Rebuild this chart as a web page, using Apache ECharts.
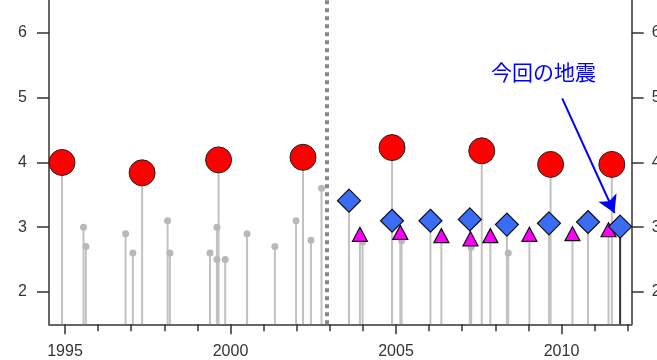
<!DOCTYPE html>
<html><head><meta charset="utf-8">
<script src="https://cdn.jsdelivr.net/npm/echarts@6/dist/echarts.min.js"></script>
<style>html,body{margin:0;padding:0;background:#fff}#c{width:657px;height:360px}</style>
</head><body><div id="c"></div>
<script>
// ---- data ----
const majorYears = [1995, 2000, 2005, 2010];
const minorYears = [1995,1996,1997,1998,1999,2000,2001,2002,2003,2004,2005,2006,2007,2008,2009,2010,2011,2012];
const yTicks = [2, 3, 4, 5, 6];
const grayYears = [1995.56,1995.63,1996.83,1997.05,1998.10,1998.17,1999.38,1999.59,1999.59,1999.84,2000.50,2001.34,2001.98,2002.43,2002.75,2003.99,2005.17,2007.27,2008.39];
const grayMags  = [3.0,2.7,2.9,2.6,3.1,2.6,2.6,3.0,2.5,2.5,2.9,2.7,3.1,2.8,3.6,2.77,2.79,2.69,2.6];
const redYears = [1994.91,1997.33,1999.64,2002.19,2004.88,2007.59,2009.67,2011.52];
const redMags  = [4.0,3.84,4.04,4.08,4.23,4.18,3.97,3.97];
const blueYears = [2003.58,2004.88,2006.04,2007.23,2008.35,2009.62,2010.80];
const blueMags  = [3.41,3.10,3.10,3.12,3.04,3.06,3.08];
const latestYear = [2011.77];
const latestMag  = [3.01];
const magYears = [2003.91,2005.13,2006.37,2007.25,2007.85,2009.03,2010.33,2011.42];
const magMags  = [2.89,2.92,2.87,2.82,2.87,2.89,2.90,2.96];
const dividerYear = 2002.9;
const annotationText = '今回の地震';
const arrowFrom = [2010.02, 4.99];
const arrowTo = [2011.60, 3.22];

// ---- chart ----
const X_MIN = 1994.517, X_MAX = 2012.12, Y_MIN = 1.5, Y_MAX = 6.51;
const pair = (xs, ys) => xs.map((x, i) => [x, ys[i]]);
function stems(xs, ys, color, z) {
  return {
    type: 'custom', z: z, silent: true, clip: true,
    data: pair(xs, ys),
    renderItem(params, api) {
      const t = api.coord([api.value(0), api.value(1)]);
      const b = api.coord([api.value(0), Y_MIN]);
      return { type: 'line', shape: { x1: t[0], y1: t[1], x2: b[0], y2: b[1] },
               style: { stroke: color, lineWidth: 2 } };
    }
  };
}
const axisTextStyle = { color: '#333', fontSize: 16, fontFamily: 'Liberation Sans, Arial, sans-serif' };
const chart = echarts.init(document.getElementById('c'), null, { renderer: 'canvas' });
chart.setOption({
  animation: false,
  backgroundColor: '#fff',
  grid: { left: 49, right: 25.3, top: 0, bottom: 35.7, containLabel: false, outerBoundsMode: 'none' },
  xAxis: [
    { type: 'value', min: X_MIN, max: X_MAX, splitLine: { show: false },
      axisLine: { show: true, lineStyle: { color: '#333', width: 1.5 } },
      axisTick: { show: true, customValues: majorYears, length: 10, lineStyle: { color: '#333', width: 1.5 } },
      axisLabel: Object.assign({ customValues: majorYears, margin: 19, formatter: v => String(v) }, axisTextStyle) },
    { type: 'value', min: X_MIN, max: X_MAX, position: 'bottom', splitLine: { show: false },
      axisLine: { show: false },
      axisTick: { show: true, customValues: minorYears, length: 7, lineStyle: { color: '#333', width: 1.5 } },
      axisLabel: { show: false } }
  ],
  yAxis: [
    { type: 'value', min: Y_MIN, max: Y_MAX, position: 'left', splitLine: { show: false },
      axisLine: { show: true, lineStyle: { color: '#333', width: 1.5 } },
      axisTick: { show: true, customValues: yTicks, length: 12, lineStyle: { color: '#333', width: 1.5 } },
      axisLabel: Object.assign({ customValues: yTicks, margin: 22, formatter: v => String(v) }, axisTextStyle) },
    { type: 'value', min: Y_MIN, max: Y_MAX, position: 'right', splitLine: { show: false },
      axisLine: { show: true, lineStyle: { color: '#333', width: 1.5 } },
      axisTick: { show: true, customValues: yTicks, length: 12, lineStyle: { color: '#333', width: 1.5 } },
      axisLabel: Object.assign({ customValues: yTicks, margin: 20, formatter: v => String(v) }, axisTextStyle) }
  ],
  series: [
    stems(grayYears, grayMags, '#c2c2c2', 1),
    stems(redYears, redMags, '#c2c2c2', 1),
    stems(blueYears, blueMags, '#c2c2c2', 1),
    stems(magYears, magMags, '#c2c2c2', 1),
    stems(latestYear, latestMag, '#333', 1),
    { type: 'scatter', z: 2, silent: true, data: pair(grayYears, grayMags), symbol: 'circle', symbolSize: 7,
      itemStyle: { color: '#b8b8b8', opacity: 1 },
      markLine: { silent: true, symbol: ['none', 'none'], label: { show: false },
        lineStyle: { color: '#888', width: 4, type: [4, 4] }, data: [{ xAxis: dividerYear }] } },
    { type: 'scatter', z: 3, silent: true, data: pair(redYears, redMags), symbol: 'circle', symbolSize: 26,
      itemStyle: { color: '#ff0000', borderColor: '#222', borderWidth: 1, opacity: 1 } },
    { type: 'scatter', z: 4, silent: true, data: pair(blueYears, blueMags), symbol: 'diamond', symbolSize: [23, 23],
      itemStyle: { color: '#3a6cf4', borderColor: '#111', borderWidth: 1.2, opacity: 1 } },
    { type: 'scatter', z: 5, silent: true, data: pair(magYears, magMags), symbol: 'triangle', symbolSize: [15, 14],
      itemStyle: { color: '#ff00ff', borderColor: '#111', borderWidth: 1.2, opacity: 1 } },
    { type: 'scatter', z: 6, silent: true, data: pair(latestYear, latestMag), symbol: 'diamond', symbolSize: [23, 23],
      itemStyle: { color: '#3a6cf4', borderColor: '#111', borderWidth: 1.2, opacity: 1 },
      markLine: { silent: true, symbol: ['none', 'arrow'], symbolSize: [15, 17], label: { show: false },
        lineStyle: { color: '#0000ff', width: 2, type: 'solid' },
        data: [[{ coord: arrowFrom }, { coord: arrowTo }]] } }
  ],
  graphic: [
    { type: 'text', left: 491, top: 62, z: 10, silent: true,
      style: { text: annotationText, fill: '#0000ff', font: 'normal 21px "Noto Sans CJK JP", sans-serif' } }
  ]
});
</script>
</body></html>
